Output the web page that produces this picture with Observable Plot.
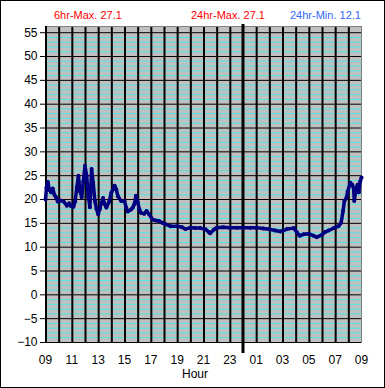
<!DOCTYPE html>
<html><head><meta charset="utf-8">
<script src="https://cdn.jsdelivr.net/npm/d3@7"></script>
<script src="https://cdn.jsdelivr.net/npm/@observablehq/plot@0.6"></script>
<style>
html,body{margin:0;padding:0;background:#fff;}
#wrap{position:relative;width:385px;height:388px;overflow:hidden;font-family:"Liberation Sans",Arial,sans-serif;}
#border{position:absolute;left:0;top:0;width:385px;height:388px;box-sizing:border-box;border:1px solid #000;pointer-events:none;}
.t{position:absolute;font-size:11px;line-height:11px;white-space:nowrap;}
.xl{position:absolute;font-size:12px;line-height:12px;white-space:nowrap;transform:translateX(-50%);}
</style></head><body>
<div id="wrap"><div id="chart"></div>
<span class="t" style="left:54px;top:10px;color:#ff0000">6hr-Max. 27.1</span>
<span class="t" style="left:191px;top:10px;color:#ff0000">24hr-Max. 27.1</span>
<span class="t" style="left:290px;top:10px;color:#3366ff">24hr-Min. 12.1</span>
<span class="xl" style="left:195px;top:368px;">Hour</span>
<div id="border"></div></div>
<script>
// hours since 09:00
const hours = [0,0.075,0.175,0.3,0.425,0.55,0.675,0.8,0.925,1.125,1.375,1.625,1.8,1.95,2.125,2.25,2.375,2.5,2.625,2.75,2.875,3.0,3.125,3.25,3.375,3.5,3.625,3.75,3.875,4.0,4.125,4.25,4.375,4.5,4.625,4.825,5.0,5.25,5.375,5.5,5.75,6.0,6.125,6.25,6.5,6.625,6.75,6.875,7.0,7.125,7.25,7.5,7.675,7.875,8.125,8.375,8.625,8.875,9.125,9.5,10.0,10.375,10.625,11.0,11.375,11.75,12.15,12.4,12.5,12.8,13.0,13.5,14.0,14.55,15.0,15.55,16.0,16.55,17.0,17.45,17.85,18.0,18.35,18.85,19.1,19.3,19.6,20.0,20.35,20.6,21.0,21.25,21.5,21.9,22.25,22.45,22.6,22.7,22.85,22.95,23.15,23.3,23.4,23.45,23.6,23.7,23.8,23.9,24.0];
const temps = [20.0,22.5,23.7,22.0,21.5,22.3,21.0,20.5,19.6,19.8,19.6,18.7,19.2,18.6,18.5,19.6,22.5,25.0,21.7,20.5,23.8,27.1,25.0,20.7,18.4,26.4,23.5,19.7,18.0,16.9,18.0,19.3,20.3,19.0,18.3,19.5,21.4,22.9,22.1,20.7,19.7,19.7,18.3,17.5,17.9,18.3,19.0,20.8,19.5,18.0,17.2,17.0,17.6,16.9,15.8,15.6,15.5,15.1,14.8,14.4,14.4,14.2,13.8,14.1,14.0,14.0,13.75,13.2,12.9,13.7,14.1,14.2,14.1,14.1,14.1,14.1,14.1,13.9,13.75,13.5,13.3,13.4,13.8,14.0,13.1,12.4,12.7,12.8,12.4,12.1,12.6,13.2,13.5,14.0,14.4,15.1,17.6,19.7,20.3,21.7,23.5,23.1,22.4,19.7,22.4,23.1,21.5,23.8,24.6];
const xTickHours = [0,2,4,6,8,10,12,14,16,18,20,22,24];
const xTickLabels = ["09","11","13","15","17","19","21","23","01","03","05","07","09"];
const yTicks = [-10,-5,0,5,10,15,20,25,30,35,40,45,50,55];
const yMinor = d3.range(-9,56).filter(v => v % 5 !== 0);
const hourLines = d3.range(1,24).filter(h => h !== 15);
const midnight = [15];

const data = hours.map((h,i) => ({h, t: temps[i]}));

const chart = Plot.plot({
  width: 385, height: 388,
  marginLeft: 45, marginRight: 24, marginTop: 26, marginBottom: 46,
  style: {fontSize: "12px", fontFamily: "Liberation Sans, Arial, sans-serif", background: "transparent", color: "#000"},
  x: {domain: [0,24], ticks: xTickHours, tickFormat: d => xTickLabels[xTickHours.indexOf(d)], tickSize: 0, tickPadding: 13, label: null},
  y: {domain: [-10,56.3], ticks: yTicks, tickSize: 5, tickPadding: 3, label: null},
  marks: [
    Plot.frame({fill: "#c0c0c0", stroke: null}),
    Plot.ruleY(yMinor, {stroke: "#00ffff", strokeOpacity: 0.6}),
    Plot.ruleY(yTicks, {stroke: "#000"}),
    Plot.ruleX(hourLines, {stroke: "#000", strokeWidth: 2, dx: 0.5}),
    Plot.frame({stroke: "#808080"}),
    Plot.ruleX([0], {stroke: "#000", strokeWidth: 2, dx: 0.5}),
    Plot.ruleY([-10], {stroke: "#000"}),
    Plot.ruleX(midnight, {stroke: "#000", strokeWidth: 3, insetTop: -2, insetBottom: -11}),
    Plot.line(data, {x: "h", y: "t", stroke: "#000080", strokeWidth: 3.5, strokeLinejoin: "round"}),
    Plot.dot(data, {x: "h", y: "t", r: 2, fill: "#000080", stroke: null})
  ]
});
document.getElementById("chart").appendChild(chart);
</script>
</body></html>
